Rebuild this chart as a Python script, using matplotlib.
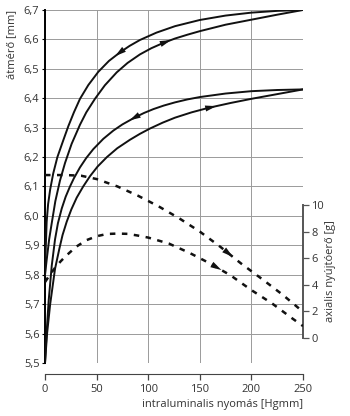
import matplotlib.pyplot as plt
import numpy as np
from matplotlib.ticker import FuncFormatter

plt.rcParams['font.family'] = ['Open Sans', 'DejaVu Sans']

# diameter loops (mm) vs intraluminal pressure (Hgmm)
# upper loop, unloading branch
up_unload_x = [0, 0.8, 1.6, 3, 5, 8, 12, 17.8, 22.6, 28, 33.9, 42, 51.7, 62, 72.7, 82, 92,
               108, 126, 150, 175, 200, 225, 250]
up_unload_y = [5.80, 5.90, 5.98, 6.04, 6.09, 6.145, 6.2, 6.258, 6.305, 6.352, 6.398, 6.445, 6.49,
               6.527, 6.556, 6.578, 6.598, 6.623, 6.645, 6.666, 6.681, 6.691, 6.697, 6.70]
# upper loop, loading branch
up_load_x = [0, 1.6, 4, 6.5, 10, 14.5, 19.4, 25.8, 33.9, 40, 48.4, 58, 69.5, 80, 92, 103,
             114.6, 126, 138, 150, 175, 200, 225, 250]
up_load_y = [5.80, 5.85, 5.92, 5.975, 6.05, 6.12, 6.18, 6.245, 6.31, 6.352, 6.398, 6.444, 6.488,
             6.52, 6.549, 6.57, 6.588, 6.603, 6.616, 6.628, 6.65, 6.667, 6.684, 6.70]
# lower loop, unloading branch
lo_unload_x = [0, 1.5, 3.5, 6.5, 9.7, 12.5, 16.2, 20, 24.2, 28, 33.9, 40, 46.8, 56.5, 66.2, 75,
               87.2, 96, 105, 115, 126, 138, 150, 175, 200, 225, 250]
lo_unload_y = [5.5, 5.6, 5.71, 5.83, 5.92, 5.975, 6.025, 6.065, 6.10, 6.128, 6.165, 6.197, 6.227,
               6.262, 6.29, 6.311, 6.335, 6.35, 6.363, 6.375, 6.386, 6.396, 6.404, 6.416, 6.424,
               6.428, 6.43]
# lower loop, loading branch
lo_load_x = [0, 2, 5, 9.7, 14, 17, 21, 25.5, 30.7, 37, 43.6, 51, 60, 70, 82.4, 92, 101.7, 114,
             126, 142, 158, 180, 200, 225, 250]
lo_load_y = [5.5, 5.6, 5.7, 5.82, 5.89, 5.935, 5.98, 6.022, 6.062, 6.1, 6.135, 6.168, 6.2, 6.23,
             6.259, 6.279, 6.297, 6.317, 6.334, 6.352, 6.367, 6.384, 6.398, 6.414, 6.43]

# axial force (g)
fa_x = [0, 20, 35, 50, 70, 90, 110, 130, 150, 170, 190, 210, 230, 250]
fa_y = [12.25, 12.25, 12.2, 11.95, 11.4, 10.7, 9.9, 9.0, 8.0, 6.85, 5.6, 4.45, 3.27, 1.97]
fb_x = [0, 5, 10, 15, 20, 30, 40, 50, 60, 70, 80, 90, 100, 120, 140, 160, 180, 200, 220, 240, 250]
fb_y = [4.2, 4.8, 5.3, 5.75, 6.15, 6.85, 7.35, 7.65, 7.82, 7.85, 7.83, 7.7, 7.55, 7.1, 6.4, 5.6,
        4.7, 3.6, 2.6, 1.45, 0.9]

x_ticks = [0, 50, 100, 150, 200, 250]
d_ticks = [5.5, 5.6, 5.7, 5.8, 5.9, 6.0, 6.1, 6.2, 6.3, 6.4, 6.5, 6.6, 6.7]
f_ticks = [0, 2, 4, 6, 8, 10]

fig = plt.figure(figsize=(3.5, 4.16), dpi=100)
ax = fig.add_axes([0.1286, 0.1274, 0.7371, 0.8486])
ax2 = ax.twinx()

ax.set_xlim(0, 250)
ax.set_ylim(5.5, 6.7)
ax2.set_ylim(-1.88, 24.66)

ax.set_xticks(x_ticks)
ax.set_yticks(d_ticks)
ax.grid(True, color='#9a9a9a', lw=0.7)
ax.set_axisbelow(True)

comma = FuncFormatter(lambda v, p: f'{v:.1f}'.replace('.', ','))
ax.yaxis.set_major_formatter(comma)

for s in ['top', 'right']:
    ax.spines[s].set_visible(False)
ax.spines['bottom'].set_position(('outward', 8))
ax.spines['bottom'].set_bounds(0, 250)
ax.spines['bottom'].set_color('#444444')
ax.spines['left'].set_linewidth(1.4)
ax.tick_params(axis='x', direction='out', length=4, width=0.9, color='#444444',
               labelsize=8, labelcolor='#333333', pad=3)
ax.tick_params(axis='y', direction='out', length=2, width=0.8,
               labelsize=8, labelcolor='#333333', pad=2)

for s in ['top', 'left', 'bottom']:
    ax2.spines[s].set_visible(False)
ax2.spines['right'].set_bounds(0, 10)
ax2.spines['right'].set_linewidth(1.4)
ax2.spines['right'].set_color('#555555')
ax2.set_yticks(f_ticks)
ax2.tick_params(axis='y', direction='out', length=4, width=0.9, color='#555555',
                labelsize=8, labelcolor='#333333', pad=2)

lw = 1.4
for xs, ys in [(up_unload_x, up_unload_y), (up_load_x, up_load_y),
               (lo_unload_x, lo_unload_y), (lo_load_x, lo_load_y)]:
    ax.plot(xs, ys, color='#111111', lw=lw, solid_capstyle='round',
            solid_joinstyle='round', zorder=3)

for xs, ys in [(fa_x, fa_y), (fb_x, fb_y)]:
    ax2.plot(xs, ys, color='#111111', lw=1.8, dashes=(2.2, 2.6), zorder=3)

# direction arrows along the curves
def arrow(a, xs, ys, x_at, direction):
    x0 = x_at - direction * 5
    y0 = np.interp(x0, xs, ys)
    y1 = np.interp(x_at, xs, ys)
    a.annotate('', xy=(x_at, y1), xytext=(x0, y0),
               arrowprops=dict(arrowstyle='-|>,head_length=0.8,head_width=0.22',
                               color='#111111', lw=0, shrinkA=0, shrinkB=0),
               zorder=4)

arrow(ax, up_unload_x, up_unload_y, 68, -1)
arrow(ax, up_load_x, up_load_y, 122, 1)
arrow(ax, lo_unload_x, lo_unload_y, 82, -1)
arrow(ax, lo_load_x, lo_load_y, 166, 1)
arrow(ax2, fa_x, fa_y, 182, 1)
arrow(ax2, fb_x, fb_y, 171, 1)

ax.set_xlabel('intraluminalis nyomás [Hgmm]', fontsize=8, color='#333333',
              ha='right', x=1.0, labelpad=3)
fig.text(0.034, 0.976, 'átmérő [mm]', rotation=90, ha='center', va='top',
         fontsize=8, color='#333333')
fig.text(0.945, 1 - 271 / 416, 'axialis nyújtóerő [g]', rotation=90, ha='center',
         va='center', fontsize=8, color='#333333')

fig.savefig('out.png', dpi=100, facecolor='white')
